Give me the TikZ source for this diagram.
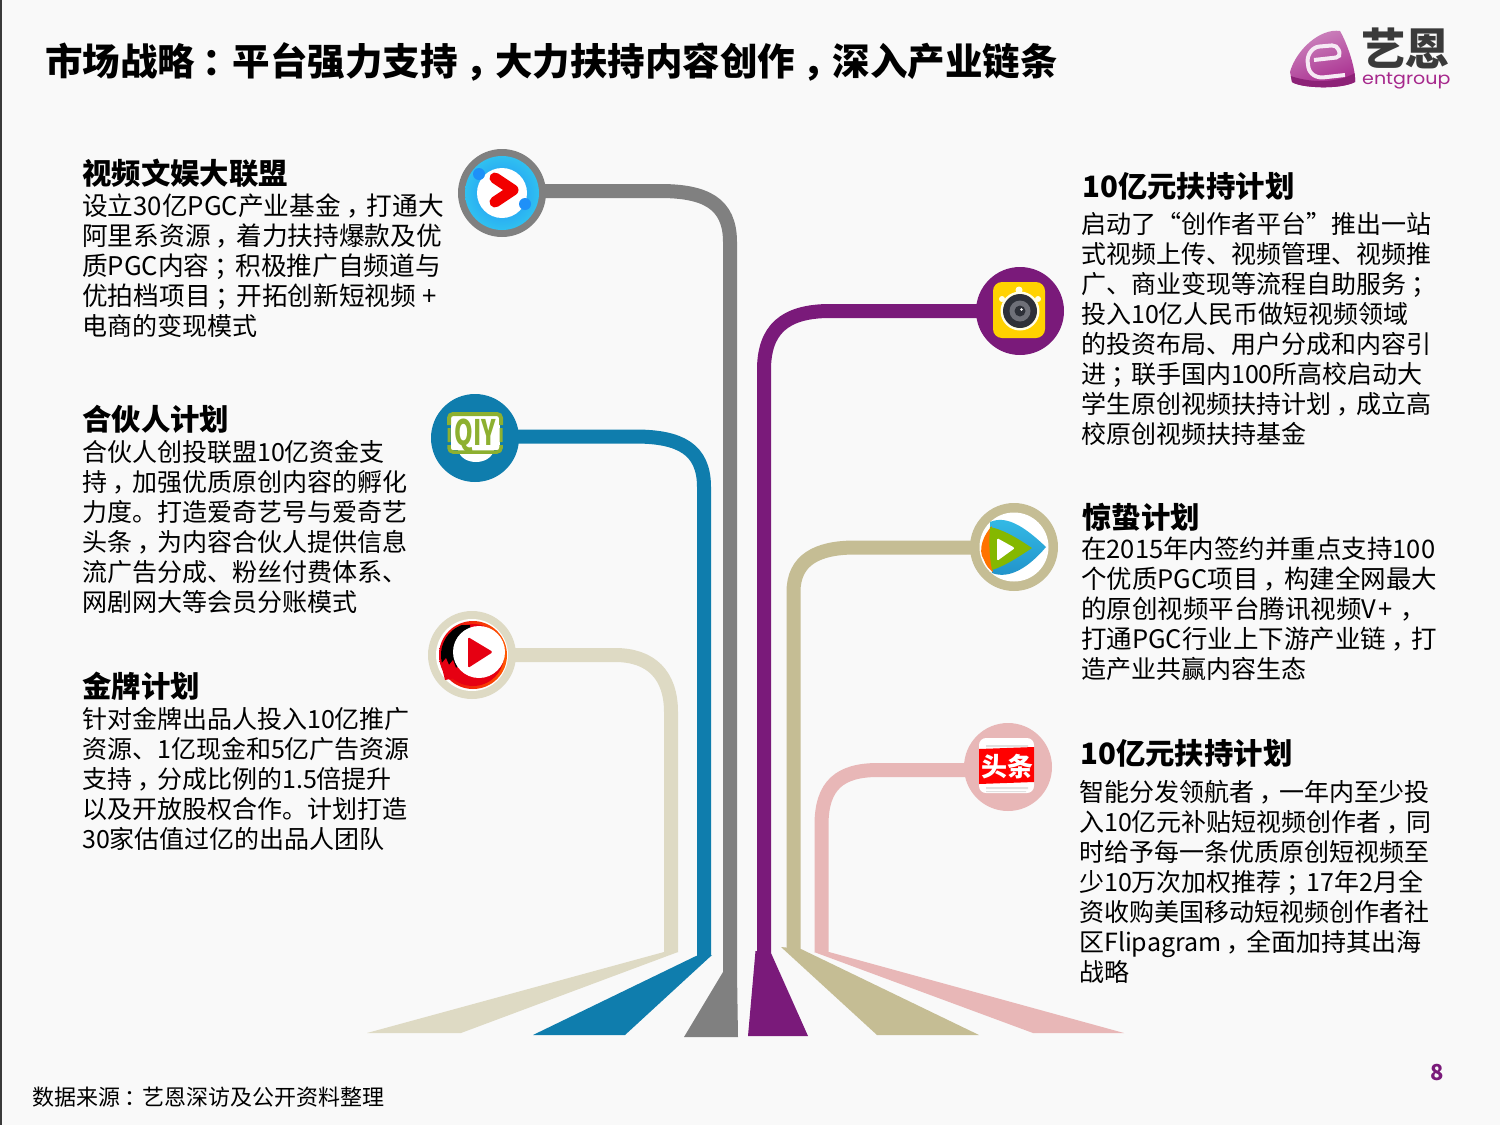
\documentclass[tikz,border=0pt]{standalone}
\usepackage{fontspec}
\setmainfont{Noto Sans CJK SC}
\newfontfamily\logofont{Poppins}
\usetikzlibrary{calc}
\definecolor{pagebg}{HTML}{F9F9F9}
\definecolor{cgray}{HTML}{808080}
\definecolor{cblue}{HTML}{0F7DAD}
\definecolor{cbeige}{HTML}{DEDAC4}
\definecolor{cpurple}{HTML}{7A1A7A}
\definecolor{ckhaki}{HTML}{C5BD94}
\definecolor{cpink}{HTML}{E8B7B7}
\definecolor{logodark}{HTML}{3A3A3A}
\definecolor{logopurple}{HTML}{A6288C}
\definecolor{qgreen}{HTML}{8DB030}
\definecolor{vgreen}{HTML}{85B800}
\definecolor{vlblue}{HTML}{35BDE8}
\definecolor{vdblue}{HTML}{2090C8}
\definecolor{ykblue}{HTML}{1E90F8}
\definecolor{ykcyan}{HTML}{30C0F0}
\definecolor{camyel}{HTML}{FFD200}
\definecolor{camdark}{HTML}{2D3038}
\definecolor{camgray}{HTML}{6E7078}
\definecolor{gredd}{HTML}{E60012}
\newcommand{\pu}[1]{\kern.2em #1\kern-.2em}
\newcommand{\zq}{\fontsize{25.7}{30}\selectfont}
\newcommand{\zr}{\fontsize{25}{30}\selectfont}
\newcommand{\zt}{\fontsize{25.5}{30}\selectfont}
\tikzset{
  pipe/.style={line width=14pt,line cap=butt,line join=round},
  hub/.style={circle,minimum size=88pt,inner sep=0pt,fill=#1},
  headtxt/.style={anchor=north west,inner sep=0pt,align=left,font=\fontsize{29.4}{34}\selectfont\bfseries},
  bodytxt/.style={anchor=north west,inner sep=0pt,align=left,font=\zr},
}
\begin{document}
\begin{tikzpicture}[x=1pt,y=-1pt]
\fill[pagebg] (0,0) rectangle (1500,1125);
\useasboundingbox (0,0) rectangle (1500,1125);
\fill[logodark] (0,0) rectangle (1.5,1125);
% title
\node[anchor=west,inner sep=0pt,font=\fontsize{37.5}{40}\selectfont\bfseries] (title) at (45,62) {市场战略\pu{：}平台强力支持\pu{，}大力扶持内容创作\pu{，}深入产业链条};
% hubs
\node[hub=cgray] (c1) at (502,193) {};
\node[hub=cblue] (c2) at (475,438) {};
\node[hub=cbeige] (c3) at (472,655) {};
\node[hub=cpurple] (c4) at (1020,311) {};
\node[hub=ckhaki] (c5) at (1014,547) {};
\node[hub=cpink] (c6) at (1008,767) {};
% connectors
\coordinate (p1) at (660,191); \coordinate (q1) at (730,242); \coordinate (e1) at (730,972);
\coordinate (p2) at (635,436.5); \coordinate (q2) at (704,487); \coordinate (e2) at (704,956);
\coordinate (p3) at (615,655); \coordinate (q3) at (671,712); \coordinate (e3) at (671,952);
\coordinate (p4) at (830,311); \coordinate (q4) at (764,370); \coordinate (e4) at (764,953);
\coordinate (p5) at (855,547.5); \coordinate (q5) at (793.5,592); \coordinate (e5) at (793.5,949);
\coordinate (p6) at (878,770); \coordinate (q6) at (821.5,825); \coordinate (e6) at (821.5,952);
\draw[pipe,cgray,shorten <=-2pt] (c1.east |- p1) -- (p1) .. controls +(45,0) and (730,203) .. (q1) -- (e1);
\draw[pipe,cblue,shorten <=-2pt] (c2.east |- p2) -- (p2) .. controls +(45,0) and (704,449) .. (q2) -- (e2);
\draw[pipe,cbeige,shorten <=-2pt] (c3.east |- p3) -- (p3) .. controls +(36,0) and (671,675) .. (q3) -- (e3);
\draw[pipe,cpurple,shorten <=-2pt] (c4.west |- p4) -- (p4) .. controls +(-46,0) and (764,330) .. (q4) -- (e4);
\draw[pipe,ckhaki,shorten <=-2pt] (c5.west |- p5) -- (p5) .. controls +(-38,0) and (793.5,560) .. (q5) -- (e5);
\draw[pipe,cpink,shorten <=-2pt] (c6.west |- p6) -- (p6) .. controls +(-38,0) and (821.5,785) .. (q6) -- (e6);
% flares
\fill[cgray] (723,972) -- (737,972) -- (738,1037) -- (684,1037) -- cycle;
\fill[cblue] (696,956) -- (712,955) -- (625,1035) -- (533,1035) -- cycle;
\fill[cbeige] (664,952) -- (678,952) -- (461,1033) -- (367,1033) -- cycle;
\fill[cpurple] (755.5,951) -- (771,953) -- (808,1036) -- (748,1036) -- cycle;
\fill[ckhaki] (781,947) -- (801,949) -- (979,1035) -- (877,1035) -- cycle;
\fill[cpink] (814,952) -- (829,952) -- (1124,1033) -- (1033,1033) -- cycle;
% icon 1: youku
\shade[inner color=ykblue,outer color=ykcyan] (502,193) circle (37);
\fill[white] (502,193) circle (25);
\fill[ykblue] (479,174) circle (6) (525,204) circle (6);
\draw[red!95!black,line width=11pt,line cap=round,line join=round] (495,178) -- (513,190) -- (495,202);
% icon 2: iqiyi
\fill[white] (451,414) rectangle (500,450);
\fill[white] (458,450) .. controls (462,466) and (490,466) .. (494,450) -- cycle;
\draw[qgreen,line width=4pt,rounded corners=4pt] (449,425) -- (449,414) -- (501,414) -- (501,425);
\draw[qgreen,line width=3.5pt,rounded corners=4pt] (449,445) -- (449,452) -- (501,452) -- (501,445);
\fill[qgreen] (447.5,428) rectangle (450.5,442) (499.5,428) rectangle (502.5,442);
\node[inner sep=0pt,text=qgreen,font=\fontsize{35}{36}\selectfont\bfseries,xscale=.68] (iq) at (475.5,436) {QIY};
% icon 3: golden
\fill[white] (472,655) circle (36);
\shade[left color=gredd,right color=orange!70!red] (473,655) circle (34);
\fill[gredd] (473,655) circle (31);
\begin{scope}
\clip (438,625) rectangle (470,667);
\fill[black] (473,655) circle (32);
\end{scope}
\fill[gredd] (441,664) -- (446,658) -- (449,665) -- (453,660) -- (456,668) -- (461,664) -- (466,676) -- (445,680) -- cycle;
\fill[white] (479,652) circle (26);
\fill[gredd,rounded corners=1.5pt] (468,637) -- (493,652) -- (468,668) -- cycle;
% icon 4: camera
\fill[camyel,rounded corners=9pt] (993,282) rectangle (1045,338);
\fill[white!90!yellow] (1019,290) circle (3.5) (1002,299) circle (3) (1038,299) circle (3);
\fill[white!90!yellow] (1020,311) circle (19.5);
\fill[camdark] (1020,311) circle (17);
\fill[camgray] (1020,311) circle (10.5);
\fill[camdark] (1020,311) circle (5.5);
\fill[white] (1021.5,309.5) circle (1.4);
% icon 5: tencent
\fill[white] (1014,547) circle (34.5);
\shade[top color=vlblue,bottom color=vdblue] (990,522) .. controls (1008,514) and (1028,530) .. (1046,547) .. controls (1030,566) and (1010,580) .. (992,573) -- cycle;
\fill[orange!90!red] (992,526) .. controls (984,534) and (977,550) .. (984,560) .. controls (986,566) and (990,570) .. (993,572) .. controls (990,555) and (990,540) .. (992,526) -- cycle;
\fill[vgreen] (990,527) .. controls (1005,530) and (1020,540) .. (1032,548) .. controls (1020,556) and (1005,566) .. (992,570) .. controls (989,555) and (989,540) .. (990,527) -- cycle;
\fill[white,rounded corners=1.5pt] (997,538) -- (1015,548) -- (997,561) -- cycle;
% icon 6: toutiao
\fill[white,rounded corners=7pt] (979,738) rectangle (1034,793);
\fill[black!12] (986,745) rectangle (1028,747) (986,787) rectangle (1028,789) (986,791) rectangle (1026,792);
\fill[red] (979,749) -- (1034,747) -- (1034,782) -- (979,784) -- cycle;
\node[inner sep=0pt,text=white,font=\fontsize{26}{26}\selectfont\bfseries] (tt) at (1007,767) {头条};
% left text
\node[headtxt] (h1) at (82,159) {视频文娱大联盟};
\node[bodytxt] (b1) at (82,193.5) {\zq 设立30亿PGC产业基金\pu{，}打通大\\\zq 阿里系资源\pu{，}着力扶持爆款及优\\\zq 质PGC内容\pu{；}积极推广自频道与\\\zq 优拍档项目\pu{；}开拓创新短视频\kern.25em+\\\zr 电商的变现模式};
\node[headtxt] (h2) at (82,405) {合伙人计划};
\node[bodytxt] (b2) at (82,440) {合伙人创投联盟10亿资金支\\持\pu{，}加强优质原创内容的孵化\\力度。打造爱奇艺号与爱奇艺\\头条\pu{，}为内容合伙人提供信息\\流广告分成、粉丝付费体系、\\网剧网大等会员分账模式};
\node[headtxt] (h3) at (82,672) {金牌计划};
\node[bodytxt] (b3) at (82,707) {针对金牌出品人投入10亿推广\\资源、1亿现金和5亿广告资源\\支持\pu{，}分成比例的1.5倍提升\\以及开放股权合作。计划打造\\30家估值过亿的出品人团队};
% right text
\node[headtxt] (h4) at (1082,172) {10亿元扶持计划};
\node[bodytxt] (b4) at (1081,212.5) {启动了“创作者平台”推出一站\\式视频上传、视频管理、视频推\\广、商业变现等流程自助服务\pu{；}\\投入10亿人民币做短视频领域\\的投资布局、用户分成和内容引\\进\pu{；}联手国内100所高校启动大\\学生原创视频扶持计划\pu{，}成立高\\校原创视频扶持基金};
\node[headtxt] (h5) at (1082,503) {惊蛰计划};
\node[bodytxt] (b5) at (1081,536.5) {\zt 在2015年内签约并重点支持100\\\zt 个优质PGC项目\pu{，}构建全网最大\\\zt 的原创视频平台腾讯视频V\kern.1em+\kern.1em\pu{，}\\\zt 打通PGC行业上下游产业链\pu{，}打\\\zr 造产业共赢内容生态};
\node[headtxt] (h6) at (1080,739) {10亿元扶持计划};
\node[bodytxt] (b6) at (1079,780) {智能分发领航者\pu{，}一年内至少投\\入10亿元补贴短视频创作者\pu{，}同\\时给予每一条优质原创短视频至\\少10万次加权推荐\pu{；}17年2月全\\资收购美国移动短视频创作者社\\区Flipagram\pu{，}全面加持其出海\\战略};
% footer
\node[anchor=west,inner sep=0pt,font=\fontsize{22}{26}\selectfont] (src) at (32,1097) {数据来源\pu{：}艺恩深访及公开资料整理};
\node[inner sep=0pt,text=cpurple,font=\fontsize{22}{26}\selectfont\bfseries] (pg) at (1437,1073) {8};
% logo
\def\logoshape{(1290,72) .. controls (1296,50) and (1320,28) .. (1340,31) .. controls (1348,45) and (1356,70) .. (1355,82) .. controls (1340,90) and (1300,88) .. (1292,82) -- cycle}
\shade[left color=logopurple!55!white,right color=logopurple,shading angle=20] \logoshape;
\begin{scope}
\clip \logoshape;
\fill[logopurple!85!black] (1285,74) .. controls (1310,84) and (1340,84) .. (1360,70) -- (1360,95) -- (1285,95) -- cycle;
\end{scope}
\draw[white!90!logopurple,line width=4pt,rounded corners=5pt] (1314,60) -- (1341,57) -- (1337,45) -- (1314,47) -- (1307,57) -- (1309,72) -- (1318,78) -- (1345,75);
\node[inner sep=0pt,anchor=west,text=logodark,font=\fontsize{44}{46}\selectfont\bfseries] (lg) at (1361,48) {艺恩};
\node[inner sep=0pt,anchor=west,text=logopurple,font=\logofont\fontsize{17}{20}\selectfont,xscale=1.12] (lg2) at (1362,80.5) {entgroup};
\end{tikzpicture}
\end{document}
